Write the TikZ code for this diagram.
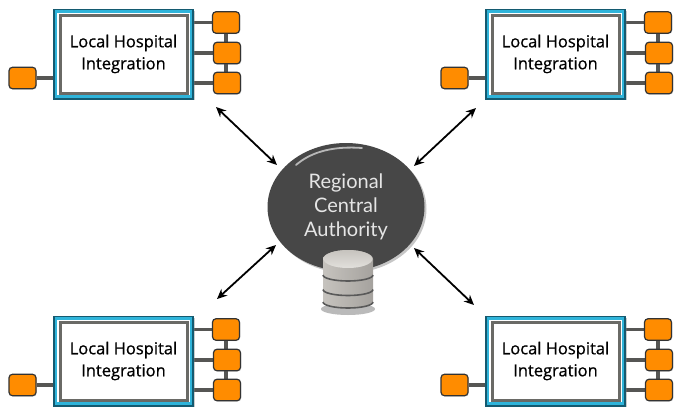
\documentclass[tikz,border=0pt]{standalone}
\usepackage{fontspec}
\setmainfont{Open Sans}
\newfontfamily\hubfont{Lato}
\usetikzlibrary{arrows.meta, backgrounds, shadows, shapes.geometric}
\definecolor{tealline}{HTML}{145A70}
\definecolor{cyanband}{HTML}{2FB4DA}
\definecolor{ringgray}{HTML}{6A6A66}
\definecolor{stubgray}{HTML}{565654}
\definecolor{portfill}{HTML}{FF8C00}
\definecolor{hubdark}{HTML}{474747}
\definecolor{dblight}{HTML}{E2E0DC}
\definecolor{dbmid}{HTML}{C6C3BE}
\definecolor{dbdark}{HTML}{A5A29E}
\tikzset{
  hospouter/.style={draw=tealline, line width=2pt, fill=white, inner sep=0pt, outer sep=0pt,
    minimum width=139pt, minimum height=89pt, drop shadow={shadow xshift=1.5pt, shadow yshift=-1.5pt, opacity=.4}},
  hospband/.style={draw=cyanband, line width=2.2pt, inner sep=0pt, outer sep=0pt,
    minimum width=135pt, minimum height=85pt},
  hospinner/.style={draw=ringgray, line width=3pt, fill=white, inner sep=0pt, outer sep=0pt,
    minimum width=127pt, minimum height=78pt, align=center,
    font=\addfontfeature{FakeBold=0.7}\fontsize{16.5}{22}\selectfont},
  port/.style={draw=black!80, line width=1.2pt, fill=portfill, rounded corners=3.5pt, inner sep=0pt,
    minimum width=27pt, minimum height=21.5pt, drop shadow={shadow xshift=.8pt, shadow yshift=-.8pt, opacity=.3}},
  stub/.style={draw=stubgray, line width=3.6pt},
  link/.style={draw=black, line width=1.8pt, {Stealth[length=10pt,width=9pt]}-{Stealth[length=10pt,width=9pt]}},
  hub/.style={ellipse, inner sep=0pt, minimum width=157pt, minimum height=128pt, align=center,
    fill=hubdark, text=white!90!black,
    font=\hubfont\fontsize{20}{24}\selectfont, drop shadow={shadow xshift=2pt, shadow yshift=-2pt, opacity=.45}},
  dbside/.style={left color=dbmid, middle color=dblight, right color=dbdark},
  groove/.style={draw=black!65, line width=1.6pt},
}
\begin{document}
\begin{tikzpicture}[x=1pt, y=-1pt]
  \useasboundingbox (0,0) rectangle (674,407);
  \foreach \name/\dx/\dy in {nw/0/0, ne/432/0, sw/0/307, se/432/307} {
    \begin{scope}[shift={(\dx,\dy)}]
      \node[hospouter] (\name box) at (123.5,54) {};
      \node[hospband] (\name band) at (123.5,54) {};
      \node[hospinner] (\name text) at (123.5,54) {\raisebox{-2pt}{Local Hospital}\\\raisebox{-2pt}{Integration}};
      \node[port] (\name left) at (22.5,78) {};
      \node[port] (\name one) at (226,22.5) {};
      \node[port] (\name two) at (227,53) {};
      \node[port] (\name three) at (227,83) {};
      \begin{pgfonlayer}{background}
        \draw[stub] (\name left) -- (\name left -| \name box.west);
        \draw[stub] (\name one) -- (\name one -| \name box.east);
        \draw[stub] (\name two) -- (\name two -| \name box.east);
        \draw[stub] (\name three) -- (\name three -| \name box.east);
        \draw[stub] (\name one) -- (\name one |- \name three);
      \end{pgfonlayer}
    \end{scope}
  }
  \node[hub] (authority) at (346,207) {Regional\\Central\\Authority};
  \draw[white!75!gray, line width=1.8pt, line cap=round, opacity=.75]
    (296,165) .. controls (312,151) and (335,146) .. (362,148);
  \fill[black!45, opacity=.6] (348,309) ellipse [x radius=27pt, y radius=6pt];
  \shade[dbside] (323,259) -- (323,302) arc[start angle=180, end angle=360, x radius=25pt, y radius=6pt]
    -- (373,259) arc[start angle=0, end angle=180, x radius=25pt, y radius=9pt] -- cycle;
  \draw[groove] (323,275) arc[start angle=180, end angle=360, x radius=25pt, y radius=6pt];
  \draw[groove] (323,289.5) arc[start angle=180, end angle=360, x radius=25pt, y radius=6pt];
  \draw[groove] (323,302) arc[start angle=180, end angle=360, x radius=25pt, y radius=6pt];
  \shade[top color=dbmid, bottom color=dblight] (348,259) ellipse [x radius=24.5pt, y radius=9pt];
  \coordinate (nwfar) at (216,107);
  \coordinate (nwnear) at (277,165);
  \coordinate (nefar) at (476,108);
  \coordinate (nenear) at (414,166);
  \coordinate (swfar) at (217,299);
  \coordinate (swnear) at (276,245);
  \coordinate (sefar) at (474,305);
  \coordinate (senear) at (414,248);
  \draw[link] (nwfar) -- (nwnear);
  \draw[link] (nefar) -- (nenear);
  \draw[link] (swfar) -- (swnear);
  \draw[link] (sefar) -- (senear);
\end{tikzpicture}
\end{document}
